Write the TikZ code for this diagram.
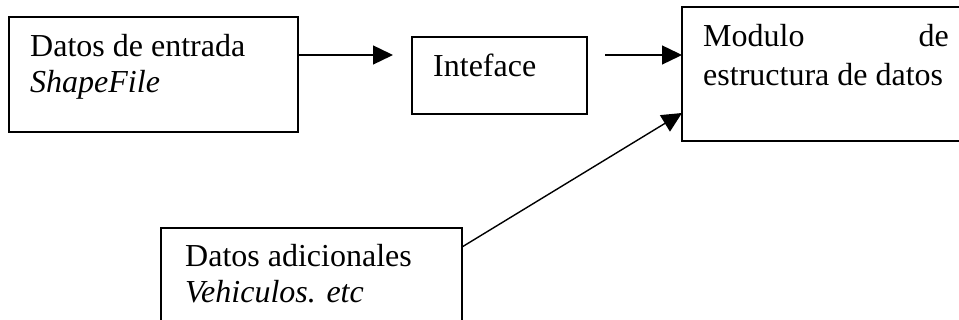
\documentclass[tikz,border=0pt]{standalone}
\usepackage{fontspec}
\setmainfont{Liberation Serif}
\usetikzlibrary{arrows.meta}
\begin{document}
\begin{tikzpicture}[x=1pt,y=-1pt,
  box/.style={draw=black,line width=1.4pt,rectangle},
  txt/.style={inner sep=0pt,font=\fontsize{32}{38}\selectfont,anchor=base west},
  conn/.style={line width=1.4pt,-{Triangle[length=20pt,width=19pt]}}]
\useasboundingbox (0,0) rectangle (959,320);
\begin{scope}
\clip (0,0) rectangle (959,320);
% boxes
\draw[box] (9,17) rectangle (298,132);
\node[box,minimum width=175pt,minimum height=77pt,inner sep=0pt] (b2) at (499.5,75.5) {};
\draw[box] (682,7) rectangle (990,141);
\draw[box] (161,228) rectangle (462,360);
\end{scope}
% texts
\node[txt] (t1a) at (30,57) {Datos de entrada};
\node[txt] (t1b) at (30,93) {\itshape ShapeFile};
\node[txt] (t2) at (433,77) {Inteface};
\node[txt] (t3a) at (703,47) {Modulo};
\node[txt,anchor=base east] (t3b) at (949,47) {de};
\node[txt] (t3c) at (703,86) {estructura de datos};
\node[txt] (t4a) at (185,267) {Datos adicionales};
\node[txt] (t4b) at (185,303) {\itshape Vehiculos. etc};
% connector endpoints
\coordinate (a1s) at (298,55);
\coordinate (a1e) at (393,55);
\coordinate (a2s) at (605,55);
\coordinate (a2e) at (682,55);
\coordinate (a3s) at (462,247);
\coordinate (a3e) at (682,113);
\draw[conn] (a1s) -- (a1e);
\draw[conn] (a2s) -- (a2e);
\draw[conn] (a3s) -- (a3e);
\end{tikzpicture}
\end{document}
